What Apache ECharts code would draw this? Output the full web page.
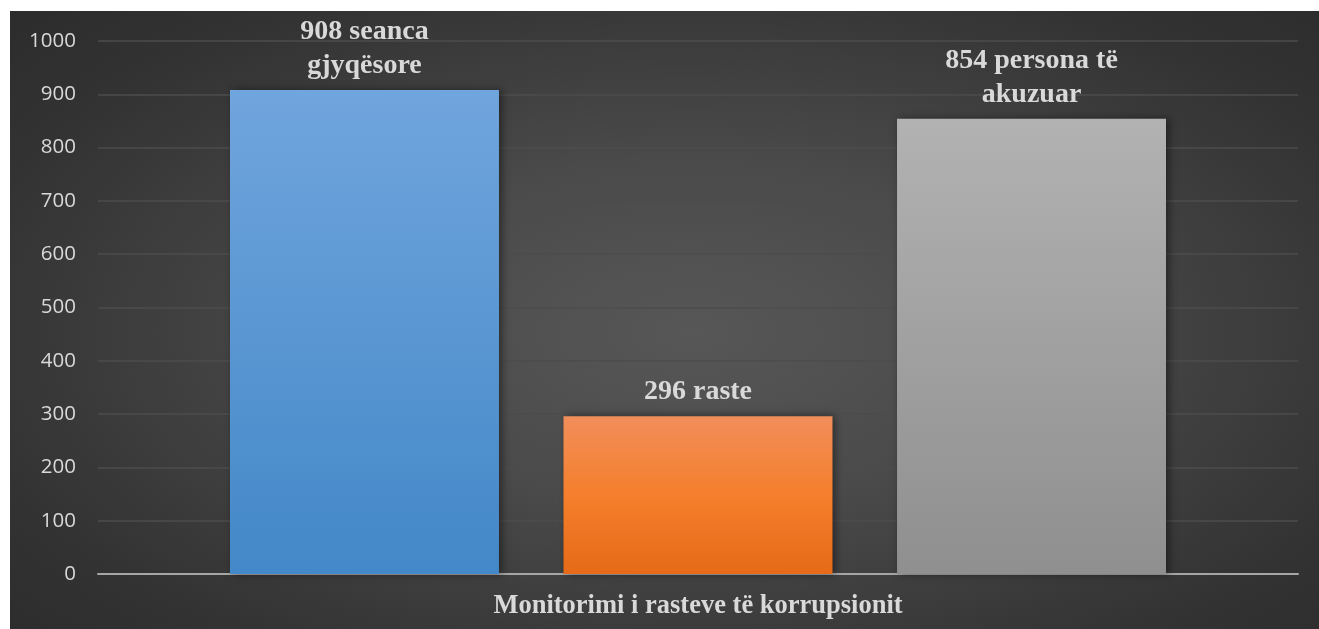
<!DOCTYPE html>
<html><head><meta charset="utf-8">
<script src="https://cdn.jsdelivr.net/npm/echarts@6/dist/echarts.min.js"></script>
<style>
html,body{margin:0;padding:0;background:#fff;}
#bg{position:absolute;left:10px;top:11px;width:1309px;height:618px;
background:radial-gradient(ellipse 75% 80% at 52% 52%, #575757 0%, #4a4a4a 35%, #333 75%, #2a2a2a 100%);}
#chart{position:absolute;left:0;top:0;width:1319px;height:629px;}
</style></head>
<body><div id="bg"></div><div id="chart"></div>
<script>
const categories = ['Monitorimi i rasteve të korrupsionit'];
const seriesNames = ['Seanca gjyqësore', 'Raste', 'Persona të akuzuar'];
const seriesValues = [908, 296, 854];
const seriesLabels = ['908 seanca\ngjyqësore', '296 raste', '854 persona të\nakuzuar'];
const yTicks = {min: 0, max: 1000, interval: 100};

const gradients = [
  ['#70a5dd', '#4388c8'],
  ['#f18e5a', '#f57f2c', '#e66a18'],
  ['#b2b2b2', '#8f8f8f']
];
function grad(c){
  const stops = c.map((col,i)=>({offset: i/(c.length-1), color: col}));
  return new echarts.graphic.LinearGradient(0,0,0,1,stops);
}
const chart = echarts.init(document.getElementById('chart'));
chart.setOption({
  backgroundColor: 'transparent',
  animation: false,
  grid: {left: 98, right: 21, top: 41, bottom: 55},
  xAxis: {
    type: 'category', data: categories,
    axisLine: {lineStyle: {color: '#a6a6a6', width: 2}},
    axisTick: {show: false},
    axisLabel: {color: '#d9d9d9', fontFamily: '"Liberation Serif", "Times New Roman", serif', fontWeight: 'bold', fontSize: 26.5, margin: 19}
  },
  yAxis: {
    type: 'value', min: yTicks.min, max: yTicks.max, interval: yTicks.interval,
    axisLine: {show: false}, axisTick: {show: false},
    axisLabel: {color: '#d9d9d9', fontFamily: '"Open Sans", "Noto Sans", sans-serif', fontSize: 20.5, margin: 22,
      formatter: v => String(v)},
    splitLine: {lineStyle: {color: '#4d4d4d', width: 1.5}}
  },
  series: seriesValues.map((v, i) => ({
    name: seriesNames[i], type: 'bar',
    data: [v],
    barGap: '24%', barCategoryGap: '22%',
    itemStyle: {color: grad(gradients[i]), shadowBlur: 8, shadowColor: 'rgba(0,0,0,0.45)', shadowOffsetX: 3},
    label: {
      show: true, position: 'top', distance: 7,
      formatter: () => seriesLabels[i],
      color: '#d9d9d9', fontFamily: '"Liberation Serif", "Times New Roman", serif',
      fontWeight: 'bold', fontSize: 28, lineHeight: 34
    }
  }))
});
</script></body></html>
